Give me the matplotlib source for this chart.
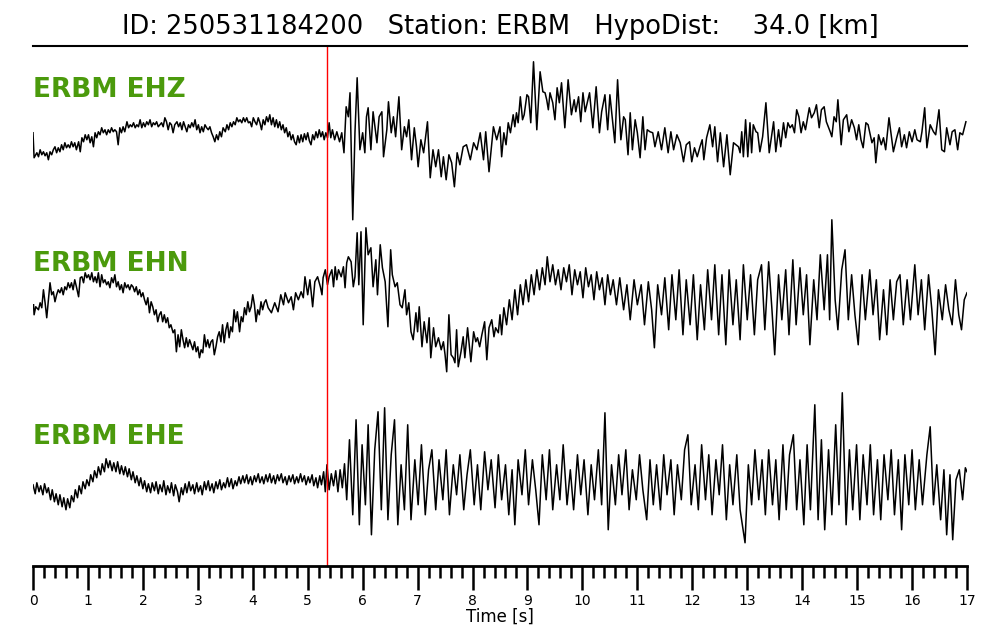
import matplotlib
matplotlib.use('Agg')
import matplotlib.pyplot as plt
from matplotlib.ticker import MultipleLocator
import numpy as np

title = "ID: 250531184200   Station: ERBM   HypoDist:    34.0 [km]"
channels = ["ERBM EHZ", "ERBM EHN", "ERBM EHE"]
pick_time = 5.36
xlabel = "Time [s]"

# (time [s], amplitude [counts, scaled])
ehz = [(0.00,-3),(0.02,-28),(0.07,-23),(0.10,-27),(0.13,-20),(0.16,-25),(0.19,-22),(0.22,-26),(0.25,-23),(0.28,-30),(0.31,-22),(0.34,-25),(0.37,-20),(0.40,-17),(0.43,-23),(0.46,-18),(0.49,-22),(0.52,-15),(0.55,-20),(0.58,-13),(0.61,-18),(0.64,-15),(0.67,-18),(0.70,-12),(0.73,-17),(0.76,-13),(0.79,-20),(0.83,-12),(0.86,-22),(0.89,-8),(0.92,-12),(0.95,-5),(0.98,-10),(1.01,-5),(1.04,-13),(1.07,-7),(1.10,-17),(1.13,-3),(1.16,-8),(1.19,-2),(1.22,-5),(1.25,2),(1.28,-3),(1.31,0),(1.34,-5),(1.37,0),(1.40,-3),(1.43,2),(1.46,-2),(1.49,0),(1.52,-2),(1.55,-15),(1.58,2),(1.61,-3),(1.64,3),(1.67,-2),(1.71,8),(1.74,2),(1.77,5),(1.80,3),(1.83,7),(1.86,2),(1.89,5),(1.92,3),(1.95,10),(1.98,2),(2.01,7),(2.04,3),(2.07,8),(2.10,5),(2.13,10),(2.16,3),(2.19,7),(2.22,5),(2.25,8),(2.28,3),(2.31,5),(2.34,7),(2.37,3),(2.40,12),(2.43,8),(2.46,0),(2.49,7),(2.52,5),(2.55,-3),(2.58,5),(2.62,8),(2.65,3),(2.68,7),(2.71,0),(2.74,8),(2.77,3),(2.80,-2),(2.83,5),(2.86,2),(2.89,7),(2.92,3),(2.95,10),(2.98,0),(3.01,5),(3.04,-3),(3.07,3),(3.10,-2),(3.13,5),(3.16,2),(3.19,0),(3.22,3),(3.25,-3),(3.28,-7),(3.31,-12),(3.34,-5),(3.37,-10),(3.40,-2),(3.43,-7),(3.46,2),(3.50,-2),(3.53,5),(3.56,0),(3.59,7),(3.62,3),(3.65,8),(3.68,5),(3.71,12),(3.74,8),(3.77,10),(3.80,7),(3.83,12),(3.86,8),(3.89,12),(3.92,7),(3.95,8),(3.98,3),(4.01,12),(4.04,8),(4.07,5),(4.10,12),(4.13,7),(4.16,0),(4.19,10),(4.22,5),(4.25,13),(4.28,8),(4.31,15),(4.34,5),(4.37,12),(4.40,3),(4.43,10),(4.46,2),(4.49,8),(4.52,0),(4.55,5),(4.58,-3),(4.61,2),(4.64,-7),(4.67,-2),(4.70,-10),(4.73,-5),(4.76,-12),(4.79,-15),(4.82,-6),(4.85,-13),(4.88,-5),(4.91,-12),(4.94,-4),(4.97,-10),(5.00,-3),(5.03,-11),(5.06,-15),(5.09,-5),(5.12,-10),(5.15,-2),(5.18,-8),(5.21,0),(5.24,-7),(5.27,-2),(5.30,-10),(5.33,-3),(5.36,-8),(5.39,7),(5.42,-8),(5.45,0),(5.49,-10),(5.53,-2),(5.58,-12),(5.62,-3),(5.66,-23),(5.70,23),(5.74,13),(5.77,37),(5.82,-90),(5.86,-3),(5.90,52),(5.95,-20),(6.00,-3),(6.04,-23),(6.07,13),(6.10,22),(6.15,-20),(6.19,18),(6.26,-13),(6.30,13),(6.35,18),(6.38,-27),(6.44,0),(6.47,28),(6.52,-3),(6.56,13),(6.60,-7),(6.66,33),(6.71,-20),(6.76,3),(6.80,-7),(6.84,10),(6.89,-30),(6.94,2),(6.98,-17),(7.01,-37),(7.06,-10),(7.11,-23),(7.18,8),(7.23,-48),(7.28,-20),(7.33,-37),(7.38,-20),(7.43,-47),(7.47,-27),(7.52,-50),(7.57,-25),(7.62,-33),(7.67,-57),(7.72,-23),(7.77,-35),(7.83,-17),(7.89,-15),(7.96,-30),(8.02,-13),(8.08,-20),(8.14,-3),(8.20,-30),(8.24,-2),(8.30,-42),(8.38,3),(8.44,-10),(8.50,3),(8.53,-27),(8.57,-3),(8.61,-15),(8.65,7),(8.69,-3),(8.74,15),(8.77,3),(8.80,17),(8.83,7),(8.87,33),(8.91,10),(8.94,15),(8.99,35),(9.02,33),(9.06,7),(9.11,68),(9.17,0),(9.23,58),(9.28,38),(9.32,37),(9.35,30),(9.38,20),(9.41,37),(9.46,27),(9.50,10),(9.54,42),(9.58,27),(9.62,47),(9.68,2),(9.74,50),(9.80,15),(9.85,30),(9.88,18),(9.93,33),(9.97,8),(10.01,37),(10.05,18),(10.08,25),(10.13,37),(10.19,2),(10.25,43),(10.31,-3),(10.35,18),(10.41,35),(10.46,0),(10.50,35),(10.59,-13),(10.64,50),(10.70,-10),(10.75,13),(10.78,10),(10.83,-25),(10.87,17),(10.91,-20),(10.96,10),(11.00,-3),(11.05,-28),(11.10,13),(11.14,-20),(11.18,0),(11.23,-2),(11.28,-3),(11.32,-17),(11.38,-2),(11.44,-20),(11.50,2),(11.56,-23),(11.61,-2),(11.66,-20),(11.72,-5),(11.78,-13),(11.84,-32),(11.89,-15),(11.95,-12),(11.99,-32),(12.04,-18),(12.09,-27),(12.14,-17),(12.18,-10),(12.21,-30),(12.26,-8),(12.32,5),(12.37,-17),(12.41,3),(12.46,-32),(12.51,-3),(12.57,-37),(12.63,-5),(12.69,-45),(12.75,-13),(12.84,-17),(12.87,-23),(12.90,-2),(12.93,-27),(12.97,10),(13.01,-27),(13.05,7),(13.08,-23),(13.11,5),(13.16,-2),(13.19,-3),(13.23,-22),(13.28,-7),(13.34,27),(13.40,-23),(13.48,8),(13.52,-22),(13.57,0),(13.61,-17),(13.66,7),(13.70,-8),(13.74,7),(13.78,2),(13.82,5),(13.86,-3),(13.90,20),(13.94,13),(13.98,-3),(14.02,8),(14.06,0),(14.13,22),(14.17,12),(14.22,17),(14.26,25),(14.31,2),(14.35,20),(14.40,23),(14.44,8),(14.51,-2),(14.54,-7),(14.58,13),(14.62,8),(14.65,30),(14.71,-15),(14.75,10),(14.81,15),(14.85,-2),(14.90,10),(14.95,2),(14.99,-10),(15.03,5),(15.07,-10),(15.11,-18),(15.16,7),(15.20,5),(15.27,-13),(15.31,-8),(15.34,-33),(15.39,-5),(15.44,-15),(15.48,-8),(15.52,-20),(15.58,12),(15.66,-22),(15.72,-8),(15.77,2),(15.81,-17),(15.86,-5),(15.90,-18),(15.95,-2),(16.00,-12),(16.05,0),(16.09,-10),(16.15,-12),(16.18,-2),(16.23,22),(16.27,-18),(16.33,5),(16.39,-2),(16.43,-5),(16.49,20),(16.54,-20),(16.59,-22),(16.63,2),(16.69,-15),(16.73,-2),(16.78,0),(16.83,-20),(16.87,-3),(16.92,-5),(16.98,8)]

ehn = [(0.01,-15),(0.02,-25),(0.05,-17),(0.10,-20),(0.13,-13),(0.16,-18),(0.19,0),(0.22,-13),(0.25,-28),(0.28,-10),(0.31,7),(0.34,-5),(0.37,-2),(0.40,-12),(0.43,-5),(0.46,0),(0.49,-3),(0.52,2),(0.55,-5),(0.58,3),(0.61,0),(0.64,7),(0.67,2),(0.70,7),(0.73,0),(0.76,10),(0.79,3),(0.83,-7),(0.86,12),(0.89,13),(0.92,7),(0.95,17),(0.98,12),(1.01,15),(1.04,10),(1.07,17),(1.10,8),(1.13,13),(1.16,7),(1.19,17),(1.22,3),(1.25,15),(1.28,7),(1.31,10),(1.34,5),(1.37,8),(1.40,2),(1.43,12),(1.46,7),(1.49,15),(1.52,3),(1.55,8),(1.58,0),(1.61,5),(1.64,-3),(1.67,7),(1.70,2),(1.73,5),(1.76,0),(1.79,5),(1.82,3),(1.85,-2),(1.88,3),(1.91,-5),(1.94,0),(1.97,-7),(2.00,-3),(2.03,-10),(2.06,-15),(2.09,-8),(2.12,-23),(2.15,-12),(2.18,-17),(2.21,-25),(2.24,-20),(2.27,-32),(2.30,-25),(2.33,-22),(2.36,-32),(2.39,-25),(2.42,-33),(2.45,-28),(2.48,-38),(2.51,-35),(2.55,-43),(2.58,-40),(2.61,-62),(2.64,-45),(2.67,-57),(2.70,-40),(2.73,-50),(2.76,-58),(2.79,-48),(2.82,-57),(2.85,-50),(2.88,-55),(2.91,-60),(2.94,-52),(2.97,-62),(3.00,-57),(3.03,-68),(3.06,-60),(3.09,-63),(3.12,-45),(3.15,-57),(3.18,-50),(3.21,-58),(3.24,-52),(3.27,-50),(3.30,-65),(3.33,-57),(3.36,-47),(3.39,-42),(3.42,-52),(3.45,-35),(3.48,-53),(3.51,-40),(3.54,-33),(3.57,-48),(3.60,-37),(3.63,-42),(3.66,-20),(3.69,-32),(3.72,-22),(3.76,-42),(3.79,-27),(3.82,-32),(3.85,-18),(3.88,-25),(3.91,-12),(3.94,-22),(3.97,-17),(4.00,-5),(4.03,-15),(4.06,-32),(4.09,-20),(4.12,-25),(4.15,-12),(4.18,-20),(4.21,-13),(4.24,-10),(4.28,-18),(4.34,-23),(4.40,-13),(4.46,-22),(4.51,-5),(4.56,-15),(4.59,-3),(4.65,-13),(4.70,-7),(4.74,-20),(4.78,-3),(4.83,-10),(4.88,-2),(4.92,-8),(4.95,13),(5.00,-5),(5.04,10),(5.09,-17),(5.13,8),(5.18,13),(5.23,3),(5.26,-5),(5.28,12),(5.32,20),(5.36,5),(5.39,13),(5.44,20),(5.47,3),(5.50,23),(5.53,10),(5.56,20),(5.61,13),(5.65,23),(5.68,2),(5.71,27),(5.74,33),(5.79,28),(5.83,3),(5.86,13),(5.90,57),(5.93,5),(5.97,58),(6.01,-35),(6.06,62),(6.10,35),(6.15,42),(6.19,3),(6.24,30),(6.27,-5),(6.32,45),(6.36,22),(6.41,8),(6.46,-37),(6.51,40),(6.54,15),(6.59,3),(6.63,7),(6.68,-15),(6.72,-18),(6.77,0),(6.80,-25),(6.84,-13),(6.88,-42),(6.92,-50),(6.97,-23),(7.00,-42),(7.03,-17),(7.08,-57),(7.12,-32),(7.17,-53),(7.21,-28),(7.24,-68),(7.29,-38),(7.33,-57),(7.38,-48),(7.43,-60),(7.47,-52),(7.50,-65),(7.53,-82),(7.57,-25),(7.61,-65),(7.65,-68),(7.68,-73),(7.71,-40),(7.74,-77),(7.79,-62),(7.83,-47),(7.86,-68),(7.91,-38),(7.94,-55),(7.97,-72),(8.02,-42),(8.06,-52),(8.09,-48),(8.13,-57),(8.17,-45),(8.22,-32),(8.26,-70),(8.30,-38),(8.35,-30),(8.39,-47),(8.42,-38),(8.47,-43),(8.50,-25),(8.53,-45),(8.57,-18),(8.62,-35),(8.67,-10),(8.72,-30),(8.77,0),(8.82,-25),(8.87,5),(8.92,-15),(8.97,10),(9.02,-12),(9.07,15),(9.12,-5),(9.17,20),(9.22,0),(9.27,22),(9.32,5),(9.36,33),(9.41,8),(9.46,25),(9.51,5),(9.56,20),(9.61,0),(9.66,22),(9.71,8),(9.76,25),(9.81,-5),(9.86,20),(9.91,5),(9.96,18),(10.01,-8),(10.06,22),(10.11,3),(10.16,15),(10.21,-10),(10.26,18),(10.31,0),(10.36,12),(10.41,-15),(10.46,15),(10.51,-5),(10.56,10),(10.62,-15),(10.68,12),(10.75,-20),(10.81,5),(10.87,-30),(10.94,10),(11.00,-15),(11.07,5),(11.13,-35),(11.20,8),(11.26,-20),(11.31,-58),(11.37,5),(11.44,-25),(11.50,12),(11.57,-40),(11.63,15),(11.70,-30),(11.76,20),(11.83,-45),(11.89,10),(11.96,-35),(12.02,15),(12.09,-50),(12.15,5),(12.22,-40),(12.28,20),(12.35,-30),(12.41,25),(12.48,-45),(12.54,15),(12.61,-55),(12.67,20),(12.74,-35),(12.80,10),(12.87,-50),(12.93,25),(13.00,-30),(13.06,15),(13.13,-45),(13.19,10),(13.26,25),(13.32,-40),(13.39,28),(13.45,-20),(13.50,-65),(13.57,15),(13.63,-30),(13.70,20),(13.76,-45),(13.83,30),(13.89,-35),(13.96,22),(14.02,-25),(14.08,15),(14.14,-55),(14.21,10),(14.27,-30),(14.33,35),(14.40,-20),(14.46,35),(14.50,-30),(14.54,70),(14.60,-10),(14.65,-40),(14.72,20),(14.78,40),(14.84,-30),(14.90,15),(14.96,-25),(15.02,-55),(15.09,15),(15.15,-30),(15.23,20),(15.29,-25),(15.35,10),(15.41,-50),(15.48,0),(15.54,-45),(15.60,10),(15.66,-30),(15.72,8),(15.78,15),(15.84,-35),(15.91,10),(15.97,-30),(16.05,25),(16.11,-25),(16.17,10),(16.23,-40),(16.30,15),(16.36,-20),(16.42,-65),(16.48,0),(16.55,-30),(16.61,5),(16.67,-20),(16.73,-35),(16.79,10),(16.85,-25),(16.90,-40),(16.95,-10),(17.00,-3)]

ehe = [(0.00,-5),(0.04,-14),(0.07,-3),(0.11,-12),(0.14,-6),(0.18,-15),(0.21,-4),(0.25,-13),(0.28,-8),(0.32,-20),(0.35,-10),(0.39,-22),(0.42,-14),(0.46,-25),(0.49,-15),(0.53,-27),(0.56,-18),(0.60,-30),(0.63,-19),(0.67,-28),(0.70,-16),(0.74,-22),(0.77,-10),(0.81,-18),(0.84,-6),(0.88,-14),(0.91,-2),(0.95,-9),(0.98,0),(1.02,-6),(1.05,5),(1.09,-2),(1.12,9),(1.16,2),(1.19,13),(1.23,5),(1.26,16),(1.30,8),(1.33,21),(1.37,12),(1.40,19),(1.44,9),(1.47,17),(1.51,8),(1.54,18),(1.58,6),(1.61,14),(1.65,5),(1.68,13),(1.72,3),(1.75,11),(1.79,0),(1.82,8),(1.86,-3),(1.89,4),(1.93,-6),(1.96,2),(2.00,-9),(2.03,-1),(2.07,-12),(2.10,-4),(2.14,-13),(2.17,-3),(2.21,-11),(2.24,-2),(2.28,-14),(2.31,-5),(2.35,-12),(2.38,-1),(2.42,-15),(2.45,-6),(2.49,-13),(2.52,-3),(2.56,-16),(2.59,-5),(2.63,-12),(2.66,-22),(2.70,-8),(2.73,-15),(2.77,-4),(2.80,-13),(2.84,-2),(2.87,-11),(2.91,-5),(2.94,-14),(2.98,-3),(3.01,-12),(3.05,-6),(3.08,-15),(3.12,-2),(3.15,-10),(3.19,-1),(3.22,-11),(3.26,-4),(3.29,-13),(3.33,-2),(3.36,-9),(3.40,0),(3.43,-10),(3.47,-3),(3.50,-8),(3.54,2),(3.57,-7),(3.61,1),(3.64,-9),(3.68,-1),(3.71,-6),(3.75,3),(3.78,-4),(3.82,4),(3.85,-3),(3.89,5),(3.92,-4),(3.96,3),(3.99,-5),(4.03,4),(4.06,-2),(4.10,6),(4.13,-3),(4.17,3),(4.20,-4),(4.24,5),(4.27,-2),(4.31,6),(4.34,-3),(4.38,4),(4.41,-4),(4.45,5),(4.48,-1),(4.52,6),(4.55,-3),(4.59,3),(4.62,-5),(4.66,4),(4.69,-2),(4.73,5),(4.76,-4),(4.80,3),(4.83,-3),(4.87,6),(4.90,-2),(4.94,4),(4.97,-5),(5.01,3),(5.04,-3),(5.08,5),(5.11,-6),(5.15,2),(5.18,-8),(5.22,4),(5.25,-5),(5.29,8),(5.32,-12),(5.35,15),(5.39,-10),(5.43,6),(5.47,-6),(5.51,9),(5.55,-12),(5.59,10),(5.63,-8),(5.67,16),(5.71,-20),(5.76,40),(5.82,-35),(5.88,60),(5.94,-45),(5.99,35),(6.05,-25),(6.10,55),(6.16,-55),(6.22,30),(6.28,68),(6.34,-30),(6.40,72),(6.46,-40),(6.52,25),(6.58,60),(6.64,-45),(6.70,15),(6.76,-30),(6.82,55),(6.88,-40),(6.95,20),(7.01,-25),(7.07,35),(7.14,-35),(7.20,10),(7.26,30),(7.33,-30),(7.39,20),(7.46,-20),(7.52,30),(7.58,-35),(7.65,15),(7.71,-15),(7.77,25),(7.84,-30),(7.90,5),(7.96,30),(8.03,-25),(8.09,15),(8.15,-30),(8.22,28),(8.28,-10),(8.34,20),(8.41,-28),(8.47,25),(8.53,-20),(8.60,15),(8.66,-35),(8.72,10),(8.77,-45),(8.83,20),(8.90,-15),(8.96,30),(9.02,-25),(9.09,20),(9.15,-10),(9.21,-45),(9.27,25),(9.34,-20),(9.40,30),(9.46,-30),(9.53,15),(9.59,-20),(9.65,35),(9.72,-25),(9.78,10),(9.84,-30),(9.91,25),(9.97,-15),(10.03,20),(10.10,-35),(10.16,15),(10.22,-20),(10.29,30),(10.35,-25),(10.41,67),(10.47,-50),(10.53,15),(10.60,-25),(10.66,25),(10.72,-15),(10.79,30),(10.85,-30),(10.91,10),(10.98,-20),(11.04,25),(11.10,-10),(11.17,-40),(11.23,20),(11.29,-25),(11.35,15),(11.42,-30),(11.48,25),(11.54,-15),(11.61,20),(11.67,-35),(11.73,15),(11.80,-20),(11.86,30),(11.92,45),(11.98,-25),(12.05,15),(12.11,-30),(12.17,35),(12.24,-20),(12.30,25),(12.36,-35),(12.43,20),(12.49,-15),(12.55,35),(12.62,-40),(12.68,15),(12.74,-25),(12.81,25),(12.87,-30),(12.96,-63),(13.02,15),(13.08,-25),(13.14,30),(13.21,-20),(13.27,20),(13.33,-35),(13.39,30),(13.46,-25),(13.52,20),(13.58,-40),(13.65,35),(13.71,-30),(13.77,25),(13.84,45),(13.90,-30),(13.96,20),(14.03,-45),(14.09,35),(14.15,-30),(14.23,75),(14.29,-40),(14.35,40),(14.41,-50),(14.48,30),(14.54,-35),(14.61,55),(14.67,-25),(14.73,87),(14.80,-45),(14.86,30),(14.92,-30),(14.99,35),(15.05,-40),(15.11,25),(15.18,-25),(15.24,35),(15.30,-35),(15.37,20),(15.43,-40),(15.49,25),(15.56,-20),(15.62,30),(15.68,-35),(15.75,20),(15.81,-50),(15.87,25),(15.94,-25),(16.00,30),(16.06,-30),(16.13,20),(16.19,-25),(16.27,25),(16.33,53),(16.39,-25),(16.45,15),(16.52,-40),(16.58,10),(16.63,-55),(16.69,5),(16.74,-60),(16.80,0),(16.86,10),(16.92,-20),(16.97,12),(17.00,8)]

traces = [ehz, ehn, ehe]

fig = plt.figure(figsize=(10, 6.4), dpi=100)
ax = fig.add_axes([0.033, 0.116, 0.934, 0.8125])

offsets = [-130, -290, -480]
label_pos = [-90, -264, -437]
for tr, off, ly, name in zip(traces, offsets, label_pos, channels):
    t, a = np.array(tr, dtype=float).T
    ax.plot(t, a + off, color='black', lw=1.1)
    ax.text(0, ly, name, color='#4b9a0c', fontsize=19, fontweight='bold',
            ha='left', va='center')

ax.axvline(pick_time, color='red', lw=1)
ax.set_xlim(0, 17)
ax.set_ylim(-566, -46)
ax.spines['left'].set_visible(False)
ax.spines['right'].set_visible(False)
ax.spines['top'].set_linewidth(1.5)
ax.spines['bottom'].set_linewidth(2)
ax.set_yticks([])
ax.set_xticks(range(0, 18))
ax.xaxis.set_minor_locator(MultipleLocator(0.2))
ax.tick_params(axis='x', which='major', length=17, width=1.8, labelsize=10, pad=3)
ax.tick_params(axis='x', which='minor', length=8.5, width=1.8)
ax.set_xlabel(xlabel, fontsize=12, labelpad=0)
fig.text(0.5, 1 - 27 / 640, title, ha='center', va='center', fontsize=18.5)

fig.savefig('out.png', dpi=100)
